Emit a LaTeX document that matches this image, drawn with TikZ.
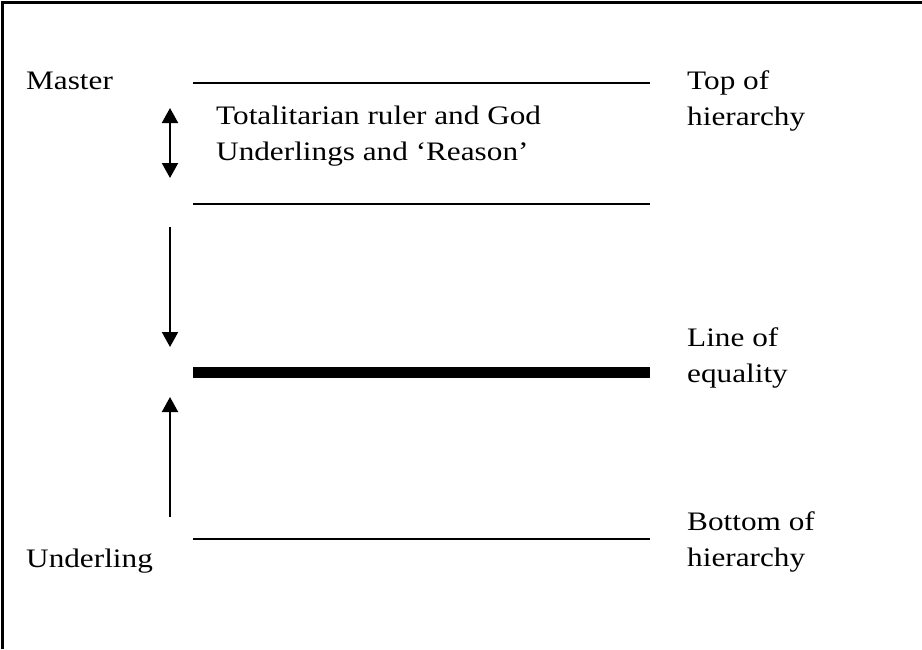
\documentclass[tikz,border=0pt]{standalone}
\usepackage{fontspec}
\setmainfont{Liberation Serif}[FakeStretch=1.17]
\usepackage{tikz}
\usetikzlibrary{arrows.meta, positioning}

\tikzset{
  lbl/.style={anchor=base west, inner sep=0pt, align=left, font=\fontsize{26.7}{36}\selectfont},
  level/.style={line width=2pt},
  equal/.style={line width=11pt},
  move/.style={line width=2pt, -{Triangle[width=16pt, length=15pt]}}
}

\begin{document}
\begin{tikzpicture}[x=1pt, y=-1pt]
  \useasboundingbox (0,0) rectangle (922,649);

  % Frame
  \draw[line width=3pt] (2,649) -- (2,2) -- (922,2);

  % Labels on the left
  \node[lbl] (master) at (26, 89) {Master};
  \node[lbl] (underling) at (26, 567) {Underling};

  % Labels on the right (anchored at the last line)
  \node[lbl] (top) at (687, 125) {Top of\\hierarchy};
  \node[lbl] (equality) at (687, 382) {Line of\\equality};
  \node[lbl] (bottom) at (687, 566) {Bottom of\\hierarchy};

  % Middle text
  \node[lbl] (ruler) at (216, 160) {Totalitarian ruler and God\\Underlings and `Reason'};

  % Levels
  \coordinate (t1) at (193, 83);   \coordinate (t2) at (650, 83);
  \coordinate (m1) at (193, 204);  \coordinate (m2) at (650, 204);
  \coordinate (e1) at (193, 372.5);\coordinate (e2) at (650, 372.5);
  \coordinate (b1) at (193, 539);  \coordinate (b2) at (650, 539);
  \draw[level] (t1) -- (t2);
  \draw[level] (m1) -- (m2);
  \draw[equal] (e1) -- (e2);
  \draw[level] (b1) -- (b2);

  % Arrows
  \coordinate (d1) at (170, 108); \coordinate (d2) at (170, 178);
  \coordinate (a1) at (170, 227); \coordinate (a2) at (170, 347);
  \coordinate (u1) at (170, 517); \coordinate (u2) at (170, 397);
  \draw[move, {Triangle[width=16pt, length=15pt]}-{Triangle[width=16pt, length=15pt]}] (d1) -- (d2);
  \draw[move] (a1) -- (a2);
  \draw[move] (u1) -- (u2);
\end{tikzpicture}
\end{document}
